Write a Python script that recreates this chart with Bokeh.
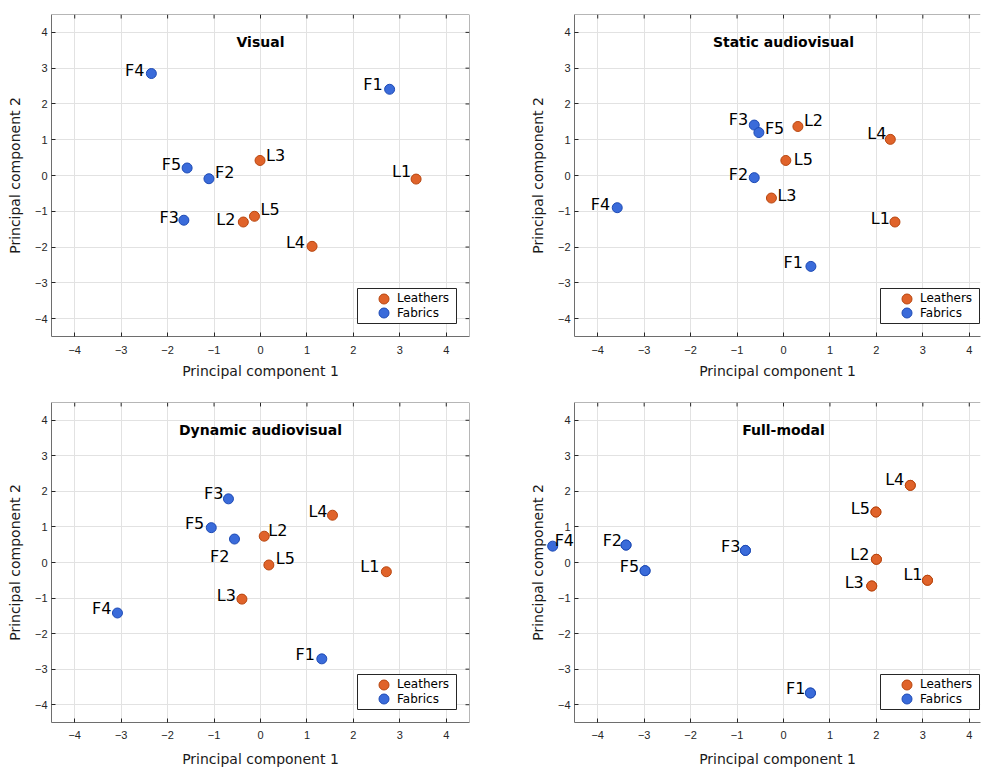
from bokeh.plotting import figure
from bokeh.models import (ColumnDataSource, LinearAxis, FixedTicker, Legend, LegendItem, Range1d,
                          Grid, Span, BoxAnnotation)
from bokeh.layouts import column, row
from bokeh.core.properties import value
from bokeh.embed import file_html
from bokeh.resources import INLINE

# ---------------- data ----------------
leather_names = ["L1", "L2", "L3", "L4", "L5"]
fabric_names = ["F1", "F2", "F3", "F4", "F5"]
panel_titles = ["Visual", "Static audiovisual", "Dynamic audiovisual", "Full-modal"]
x_label = "Principal component 1"
y_label = "Principal component 2"
axis_ticks = [-4, -3, -2, -1, 0, 1, 2, 3, 4]
legend_labels = ["Leathers", "Fabrics"]

visual_leather_x = [3.35, -0.37, -0.01, 1.11, -0.13]
visual_leather_y = [-0.10, -1.30, 0.42, -1.98, -1.14]
visual_fabric_x = [2.78, -1.11, -1.65, -2.35, -1.58]
visual_fabric_y = [2.41, -0.09, -1.25, 2.85, 0.21]

static_leather_x = [2.40, 0.31, -0.26, 2.30, 0.05]
static_leather_y = [-1.30, 1.37, -0.63, 1.01, 0.42]
static_fabric_x = [0.59, -0.63, -0.63, -3.58, -0.53]
static_fabric_y = [-2.54, -0.06, 1.41, -0.90, 1.20]

dynamic_leather_x = [2.71, 0.08, -0.40, 1.55, 0.18]
dynamic_leather_y = [-0.26, 0.74, -1.03, 1.33, -0.07]
dynamic_fabric_x = [1.32, -0.56, -0.69, -3.08, -1.06]
dynamic_fabric_y = [-2.71, 0.66, 1.79, -1.42, 0.98]

full_leather_x = [3.10, 2.00, 1.90, 2.73, 1.99]
full_leather_y = [-0.50, 0.09, -0.66, 2.17, 1.42]
full_fabric_x = [0.58, -3.39, -0.82, -4.97, -2.98]
full_fabric_y = [-3.67, 0.49, 0.34, 0.46, -0.23]

# ---------------- label placement (screen px offsets, style only) ----------------
R, Lft = "right", "left"
visual_leather_lab = [(-5, -8, R), (-8, -3, R), (6, -5, Lft), (-7, -4, R), (6, -7, Lft)]
visual_fabric_lab = [(-7, -5, R), (6, -6, Lft), (-5, -3, R), (-7, -3, R), (-6, -3, R)]
static_leather_lab = [(-5, -4, R), (6, -6, Lft), (6, -3, Lft), (-4, -6, R), (8, -1, Lft)]
static_fabric_lab = [(-8, -4, R), (-6, -3, R), (-6, -6, R), (-7, -3, R), (6, -4, Lft)]
dynamic_leather_lab = [(-7, -5, R), (4, -6, Lft), (-6, -4, R), (-5, -4, R), (7, -6, Lft)]
dynamic_fabric_lab = [(-7, -4, R), (-5, 17, R), (-5, -5, R), (-6, -4, R), (-7, -4, R)]
full_leather_lab = [(-5, -6, R), (-7, -5, R), (-8, -3, R), (-6, -6, R), (-6, -4, R)]
full_fabric_lab = [(-5, -4, R), (-4, -5, R), (-5, -4, R), (2, -6, Lft), (-6, -4, R)]

ORANGE_FILL, ORANGE_EDGE = "#E0632A", "#B8460F"
BLUE_FILL, BLUE_EDGE = "#3A6BDA", "#1E4BB5"
DARK = "#262626"
FRAME = "#6E6E6E"
GRID = "#E2E2E2"

FRAME_W, FRAME_H = 418, 322
X_SCALE = FRAME_W / 9.0   # px per unit
Y_SCALE = FRAME_H / 9.0
TICK_LEN = 4


def make_panel(title, lx, ly, fx, fy, llab, flab, width, height, min_top, min_right,
               min_bottom, x_end, left_col, tick_standoff, label_standoff, unclipped=False):
    p = figure(width=width, height=height, output_backend="svg", toolbar_location=None,
               x_range=Range1d(-4.5, x_end), y_range=Range1d(-4.5, 4.5),
               min_border_left=51, min_border_right=min_right,
               min_border_top=min_top, min_border_bottom=min_bottom,
               background_fill_color="white", border_fill_color="white")
    p.outline_line_color = None
    p.xaxis.visible = False
    p.yaxis.visible = False
    p.xgrid.visible = False
    p.ygrid.visible = False
    ticker = FixedTicker(ticks=axis_ticks)

    def style_axis(ax):
        ax.ticker = ticker
        ax.major_tick_in = TICK_LEN
        ax.major_tick_out = 0
        ax.minor_tick_line_color = None
        ax.major_tick_line_color = DARK
        ax.axis_line_color = FRAME
        ax.axis_line_width = 1
        ax.major_label_text_font = "Liberation Sans"
        ax.major_label_text_font_size = "11px"
        ax.major_label_text_color = DARK
        ax.axis_label_text_font = "DejaVu Sans"
        ax.axis_label_text_font_size = "14px"
        ax.axis_label_text_font_style = "normal"
        ax.axis_label_text_color = "#1a1a1a"

    xb = LinearAxis(axis_label=x_label)
    style_axis(xb)
    xb.major_label_standoff = tick_standoff
    xb.axis_label_standoff = label_standoff
    p.add_layout(xb, "below")

    yl = LinearAxis(axis_label=y_label)
    style_axis(yl)
    yl.major_label_standoff = 4
    yl.axis_label_standoff = 9
    p.add_layout(yl, "left")

    p.add_layout(Grid(dimension=0, ticker=ticker, grid_line_color=GRID, grid_line_width=1,
                      level="underlay"))
    p.add_layout(Grid(dimension=1, ticker=ticker, grid_line_color=GRID, grid_line_width=1,
                      level="underlay"))

    # top frame edge with inward ticks
    p.add_layout(Span(location=4.5, dimension="width", line_color=FRAME, line_width=1))
    top_ticks = [t for t in axis_ticks if t <= x_end]
    p.segment(x0=top_ticks, y0=[4.5] * len(top_ticks), x1=top_ticks,
              y1=[4.5 - TICK_LEN / Y_SCALE] * len(top_ticks), line_color=DARK, line_width=1)
    if left_col:
        # right frame edge with inward ticks
        p.add_layout(Span(location=4.5, dimension="height", line_color=FRAME, line_width=1))
        p.segment(x0=[4.5] * len(axis_ticks), y0=axis_ticks,
                  x1=[4.5 - TICK_LEN / X_SCALE] * len(axis_ticks), y1=axis_ticks,
                  line_color=DARK, line_width=1)

    def group(xs, ys, names, labs, fill, edge):
        src = ColumnDataSource(dict(x=xs, y=ys, name=names,
                                    dx=[l[0] for l in labs], dy=[l[1] for l in labs],
                                    al=[l[2] for l in labs]))
        r = p.scatter("x", "y", source=src, size=10, fill_color=fill, line_color=edge,
                      line_width=1)
        if unclipped:
            p.ellipse("x", "y", source=src, width=10, height=10, width_units="screen",
                      height_units="screen", fill_color=fill, line_color=edge, line_width=1,
                      level="overlay")
        p.text("x", "y", text="name", source=src, x_offset="dx", y_offset="dy",
               text_align="al", text_baseline="alphabetic",
               text_font=value("DejaVu Sans"), text_font_size=value("16px"),
               text_color="black", level="overlay" if unclipped else "glyph")
        return r

    rl = group(lx, ly, leather_names, llab, ORANGE_FILL, ORANGE_EDGE)
    rf = group(fx, fy, fabric_names, flab, BLUE_FILL, BLUE_EDGE)

    tsrc = ColumnDataSource(dict(x=[0], y=[4.5], t=[title]))
    p.text("x", "y", text="t", source=tsrc, y_offset=27, text_align="center",
           text_baseline="middle", text_font=value("DejaVu Sans"),
           text_font_size=value("14px"), text_font_style="bold", text_color="black")

    # legend: bordered box + two borderless single-item legends
    box_l, box_b, box_w, box_h = 306, 13, 99, 35
    p.add_layout(BoxAnnotation(left=box_l, right=box_l + box_w, bottom=box_b, top=box_b + box_h,
                               left_units="screen", right_units="screen",
                               bottom_units="screen", top_units="screen",
                               fill_color="white", fill_alpha=1.0,
                               line_color=DARK, line_width=1, line_alpha=1.0))
    row_centers = [box_b + box_h - 10, box_b + box_h - 24.6]
    for lab, rend, cy in zip(legend_labels, [rl, rf], row_centers):
        lg = Legend(items=[LegendItem(label=lab, renderers=[rend])],
                    location=(box_l + 13, cy - 12.5), padding=0, spacing=0, margin=0,
                    glyph_width=27, glyph_height=25, label_standoff=0, label_height=25,
                    label_text_font="DejaVu Sans", label_text_font_size="12px",
                    label_text_color="black", border_line_color=None,
                    background_fill_alpha=0.0)
        p.add_layout(lg)
    return p


LEFT_W, RIGHT_W = 523, 458
TOP_H, BOT_H = 396, 373
right_end = -4.5 + (RIGHT_W - 51 - 1) / X_SCALE

p1 = make_panel(panel_titles[0], visual_leather_x, visual_leather_y, visual_fabric_x, visual_fabric_y,
                visual_leather_lab, visual_fabric_lab, LEFT_W, TOP_H, 14, 54, 60, 4.5, True, 9, 6)
p2 = make_panel(panel_titles[1], static_leather_x, static_leather_y, static_fabric_x, static_fabric_y,
                static_leather_lab, static_fabric_lab, RIGHT_W, TOP_H, 14, 1, 60, right_end, False, 9, 6)
p3 = make_panel(panel_titles[2], dynamic_leather_x, dynamic_leather_y, dynamic_fabric_x, dynamic_fabric_y,
                dynamic_leather_lab, dynamic_fabric_lab, LEFT_W, BOT_H, 6, 54, 45, 4.5, True, 8, 9)
p4 = make_panel(panel_titles[3], full_leather_x, full_leather_y, full_fabric_x, full_fabric_y,
                full_leather_lab, full_fabric_lab, RIGHT_W, BOT_H, 6, 1, 45, right_end, False, 8, 9,
                unclipped=True)

layout = column(row(p1, p2), row(p3, p4))
open("out.html", "w").write(file_html(layout, INLINE))
